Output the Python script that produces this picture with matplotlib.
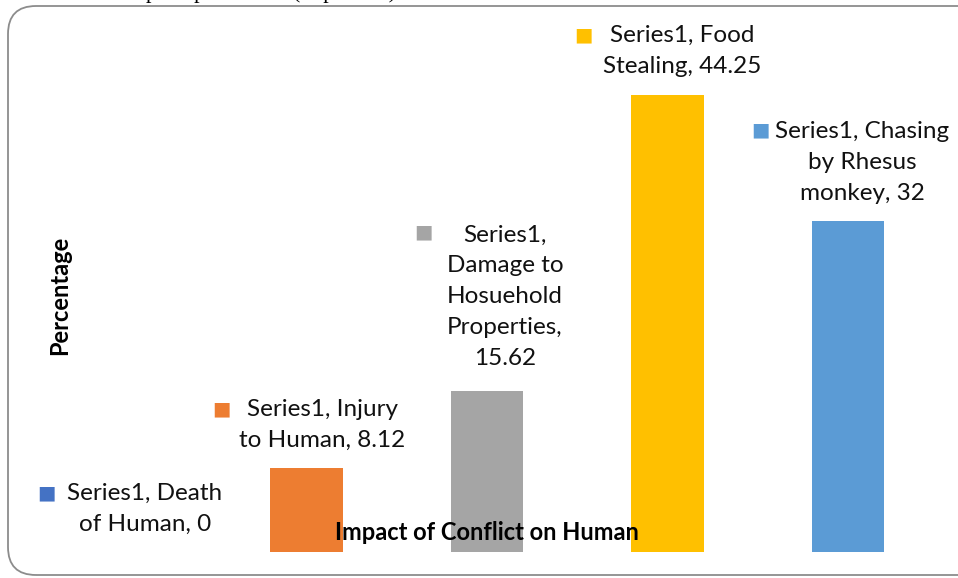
import matplotlib.pyplot as plt
from matplotlib.patches import FancyBboxPatch
from matplotlib.transforms import IdentityTransform

# categories / values
categories = ['Death\nof Human', 'Injury\nto Human', 'Damage to\nHosuehold\nProperties',
              'Food\nStealing', 'Chasing\nby Rhesus\nmonkey']
values = [0, 8.12, 15.62, 44.25, 32]
label_texts = ['Series1, Death\nof Human, 0',
               'Series1, Injury\nto Human, 8.12',
               'Series1,\nDamage to\nHosuehold\nProperties,\n15.62',
               'Series1, Food\nStealing, 44.25',
               'Series1, Chasing\nby Rhesus\nmonkey, 32']
colors = ['#4472C4', '#ED7D31', '#A5A5A5', '#FFC000', '#5B9BD5']

# label placement relative to bar top (pixels)
label_off = [(19, 43), (16, 43), (18, 94), (15, 44), (14, 59)]
key_off = [(-79, 59), (-85, 59), (-64, 159), (-84, 60), (-88, 91)]

plt.rcParams['font.family'] = ['Lato', 'DejaVu Sans']

fig = plt.figure(figsize=(9.58, 5.78), dpi=100)
ax = fig.add_axes([35.5 / 958, 1 - 552 / 578, 903 / 958, 516.5 / 578])

x = list(range(len(values)))
ax.bar(x, values, width=0.4, color=colors)
ax.set_xlim(-0.5, 4.5)
ax.set_ylim(0, 50)
for s in ax.spines.values():
    s.set_visible(False)
ax.set_xticks([])
ax.set_yticks([])

for i, v in enumerate(values):
    ax.annotate(label_texts[i], xy=(i, v), xytext=label_off[i], textcoords='offset pixels',
                ha='center', va='center', fontsize=17.5, linespacing=1.57, color='#111111')
    ax.annotate('■', xy=(i, v), xytext=key_off[i], textcoords='offset pixels',
                ha='center', va='center', fontsize=14, color=colors[i],
                family='DejaVu Sans')

fig.text(60 / 958, 1 - 295 / 578, 'Percentage', rotation=90, ha='center', va='center',
         fontsize=17, fontweight='bold')
fig.text(487 / 958, 1 - 533 / 578, 'Impact of Conflict on Human', ha='center', va='center',
         fontsize=17, fontweight='bold', zorder=5)

# cropped caption remnant at the top (only descenders show)
fig.text(146 / 958, 1 + 2 / 578, 'perception rates (in percent)', ha='left', va='baseline',
         fontsize=16, family='Liberation Serif', transform=fig.transFigure)

# rounded chart frame
frame = FancyBboxPatch((8, 3), 1000, 569, boxstyle='round,pad=0,rounding_size=28',
                       transform=IdentityTransform(), fill=False, edgecolor='#8c8c8c', lw=1.3)
fig.patches.append(frame)

fig.savefig('out.png', dpi=100)
